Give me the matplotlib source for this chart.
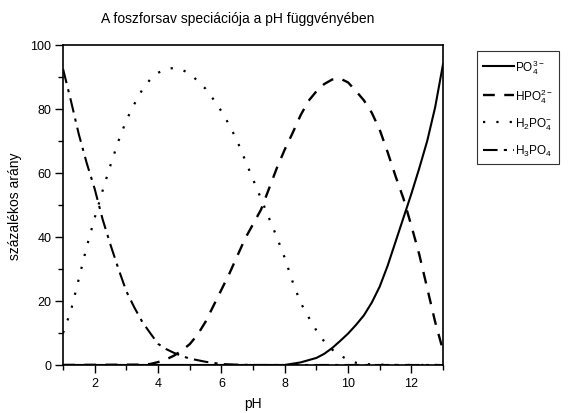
import numpy as np
import matplotlib
matplotlib.use("Agg")
import matplotlib.pyplot as plt

plt.rcParams['font.family'] = ['Liberation Sans', 'DejaVu Sans']
plt.rcParams['mathtext.fontset'] = 'custom'
plt.rcParams['mathtext.rm'] = 'Liberation Sans'
plt.rcParams['mathtext.it'] = 'Liberation Sans:italic'

# leolvasott értékek (pH, %)
ph_h3po4 = [1.0, 1.25, 1.5, 1.75, 2.0, 2.25, 2.5, 2.75, 3.0, 3.25, 3.5, 3.75,
            4.0, 4.25, 4.5, 4.75, 5.0, 5.5, 6.0, 6.5, 7.0, 13.0]
h3po4 = [92.5, 82.5, 72, 63, 55, 45.5, 37.5, 30, 23, 18, 13.5, 10,
         6.6, 5.0, 3.8, 2.8, 2.0, 1.0, 0.3, 0.1, 0, 0]

ph_h2po4 = [1.0, 1.25, 1.5, 1.75, 2.0, 2.25, 2.5, 2.75, 3.0, 3.25, 3.5, 3.75,
            4.0, 4.25, 4.5, 4.75, 5.0, 5.25, 5.5, 5.75, 6.0, 6.25, 6.5, 6.75,
            7.0, 7.25, 7.5, 7.75, 8.0, 8.25, 8.5, 8.75, 9.0, 9.25, 9.5, 9.75,
            10.0, 10.25, 10.5, 11.0, 11.5, 13.0]
h2po4 = [10, 17, 27, 37, 46, 54.5, 62.5, 70, 76.5, 81.5, 86, 89.2,
         91.3, 92.5, 92.8, 92.3, 91, 88.8, 86.3, 83, 79.3, 75, 70, 64,
         58, 52, 46, 40, 33.5, 26, 19.5, 15, 10.8, 7.3, 4.8, 3.0,
         1.6, 0.7, 0.3, 0.1, 0, 0]

ph_hpo4 = [1.0, 3.5, 3.75, 4.0, 4.25, 4.5, 4.75, 5.0, 5.25, 5.5, 5.75, 6.0,
           6.25, 6.5, 6.75, 7.0, 7.25, 7.5, 7.75, 8.0, 8.25, 8.5, 8.75, 9.0,
           9.25, 9.5, 9.75, 10.0, 10.25, 10.5, 10.75, 11.0, 11.25, 11.5, 11.75,
           12.0, 12.25, 12.5, 12.75, 13.0]
hpo4 = [0, 0.1, 0.3, 0.9, 1.7, 2.9, 4.5, 6.5, 9.5, 13.5, 18.5, 23.5,
        28.5, 34, 39.5, 44, 48.5, 55, 61.5, 67.3, 72.5, 78, 82.5, 85.5,
        87.8, 89.2, 89.5, 88.3, 85.6, 82.7, 78.8, 73.5, 66.5, 59, 52,
        43.5, 34.5, 24, 13.5, 4.5]

ph_po4 = [1.0, 8.0, 8.5, 9.0, 9.25, 9.5, 9.75, 10.0, 10.25, 10.5, 10.75, 11.0,
          11.25, 11.5, 11.75, 12.0, 12.25, 12.5, 12.75, 13.0]
po4 = [0, 0, 0.8, 2.2, 3.5, 5.3, 7.5, 9.8, 12.5, 15.5, 19.5, 24.5,
       31, 38.5, 46, 53.5, 61.5, 70, 80.5, 94]

fig = plt.figure(figsize=(5.68, 4.14), dpi=100)
ax = fig.add_axes([0.111, 0.116, 0.669, 0.773])

l1, = ax.plot(ph_po4, po4, color='black', lw=1.5, ls='-')
l2, = ax.plot(ph_hpo4, hpo4, color='black', lw=1.7, ls=(0, (5, 4)))
l3, = ax.plot(ph_h2po4, h2po4, color='black', lw=1.6, ls=(0, (1, 5)))
l4, = ax.plot(ph_h3po4, h3po4, color='black', lw=1.5, ls=(0, (7, 3, 1.5, 3)))

ax.set_xlim(1, 13)
ax.set_ylim(0, 100)
ax.set_xticks([2, 4, 6, 8, 10, 12])
ax.set_xticks(np.arange(1, 14, 1), minor=True)
ax.set_yticks([0, 20, 40, 60, 80, 100])
ax.set_yticks(np.arange(0, 101, 10), minor=True)
ax.tick_params(which='major', direction='out', length=6, width=1, labelsize=9, pad=2.5)
ax.tick_params(which='minor', direction='out', length=3.5, width=1)
for s in ax.spines.values():
    s.set_linewidth(1.2)

ax.set_xlabel('pH', fontsize=10, labelpad=5)
ax.set_ylabel('százalékos arány', fontsize=10, labelpad=6)
fig.text(0.419, 0.955, 'A foszforsav speciációja a pH függvényében',
         ha='center', va='center', fontsize=10)

leg = fig.legend([l1, l2, l3, l4],
                 [r'PO$_4^{3-}$', r'HPO$_4^{2-}$', r'H$_2$PO$_4^{-}$', r'H$_3$PO$_4$'],
                 loc='upper left', bbox_to_anchor=(477 / 568, 1 - 52 / 414),
                 borderaxespad=0, fontsize=8.5, handlelength=2.6,
                 handletextpad=0.1, labelspacing=0.9, borderpad=0.5,
                 frameon=True, fancybox=False)
leg.get_frame().set_edgecolor('black')
leg.get_frame().set_linewidth(0.8)

fig.savefig('out.png', dpi=100)
